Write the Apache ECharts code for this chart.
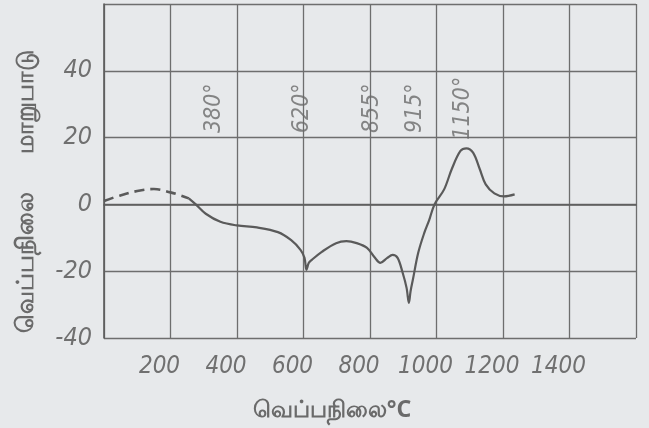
<!DOCTYPE html>
<html>
<head>
<meta charset="utf-8">
<script src="https://cdn.jsdelivr.net/npm/echarts@6/dist/echarts.min.js"></script>
<style>
html,body{margin:0;padding:0;background:#e7e9eb;}
#c{width:649px;height:428px;}
</style>
</head>
<body>
<div id="c"></div>
<script>
// Axis ticks / labels
var xTickValues = [200, 400, 600, 800, 1000, 1200, 1400];
var xTickLabels = ['200', '400', '600', '800', '1000', '1200', '1400'];
var yTickValues = [-40, -20, 0, 20, 40];
var yTickLabels = ['-40', '-20', '0', '20', '40'];

// Dashed (estimated) start of the curve
var dashX = [0, 40, 100, 150, 200, 230, 255];
var dashY = [1, 2.4, 4, 4.6, 3.6, 2.7, 1.8];

// Solid curve
var solidX = [255, 276, 306, 350, 400, 460, 523, 563, 591, 603, 609, 616, 625, 655, 698, 729, 760, 791, 815, 831, 852, 868, 883, 898, 910, 917, 922, 929, 945, 963, 978, 994, 1023, 1046, 1072, 1090, 1110, 1130, 1148, 1174, 1203, 1235];
var solidY = [1.8, 0, -2.8, -5.2, -6.3, -6.9, -8.3, -10.7, -13.6, -16, -19.6, -17.5, -16.6, -14.2, -11.6, -11, -11.6, -13, -16, -17.5, -16, -15.1, -16, -20.4, -25, -29.5, -26, -22.5, -14.5, -8.6, -4.7, 0, 4.5, 10.6, 16, 16.8, 15.5, 10.6, 6, 3.3, 2.4, 3];

// Temperature annotations
var annX = [331, 597, 806, 935, 1081];
var annY = [28.8, 28.8, 28.8, 28.8, 28.8];
var annText = ['380°', '620°', '855°', '915°', '1150°'];

var yNameParts = ['வெப்பநிலை', 'மாறுபாடு'];
var xName = 'வெப்பநிலை°C';

function zip(a, b) { return a.map(function (v, i) { return [v, b[i]]; }); }

var numFont = '"DejaVu Sans Condensed", "DejaVu Sans", sans-serif';
var ink = '#5c5c5c';
var gridInk = '#6e6e6e';
var nameFont = 'bold 24px "Noto Sans", sans-serif';

var chart = echarts.init(document.getElementById('c'), null, {renderer: 'canvas'});
chart.setOption({
  backgroundColor: '#e7e9eb',
  animation: false,
  grid: {left: 104, right: 13, top: 4, bottom: 90},
  xAxis: {
    type: 'value', min: 0, max: 1600, interval: 200,
    axisLine: {show: true, lineStyle: {color: ink, width: 1.6}},
    axisTick: {show: false},
    splitLine: {show: true, lineStyle: {color: gridInk, width: 1.3}},
    axisLabel: {
      margin: 17,
      padding: [0, 22, 0, 0],
      color: '#707070',
      fontFamily: numFont, fontStyle: 'italic', fontWeight: 'condensed', fontSize: 24,
      formatter: function (v) { var i = xTickValues.indexOf(v); return i >= 0 ? xTickLabels[i] : ''; }
    }
  },
  yAxis: {
    type: 'value', min: -40, max: 60, interval: 20,
    axisLine: {show: true, lineStyle: {color: ink, width: 1.6}},
    axisTick: {show: false},
    splitLine: {show: true, lineStyle: {color: gridInk, width: 1.3}},
    axisLabel: {
      margin: 12,
      color: '#707070',
      fontFamily: numFont, fontStyle: 'italic', fontWeight: 'condensed', fontSize: 25,
      formatter: function (v) { var i = yTickValues.indexOf(v); return i >= 0 ? yTickLabels[i] : ''; }
    }
  },
  graphic: [
    {type: 'text', x: 26, y: 262, rotation: Math.PI / 2,
      style: {text: yNameParts[0], fill: '#6a6a6a', font: nameFont, align: 'center', verticalAlign: 'middle'}},
    {type: 'text', x: 26, y: 102, rotation: Math.PI / 2,
      style: {text: yNameParts[1], fill: '#6a6a6a', font: nameFont, align: 'center', verticalAlign: 'middle'}},
    {type: 'text', x: 332, y: 410,
      style: {text: xName, fill: '#6a6a6a', font: 'bold 23px "Noto Sans", sans-serif', align: 'center', verticalAlign: 'middle'}}
  ],
  series: [
    {type: 'line', data: zip(dashX, dashY), smooth: 0.4, symbol: 'none',
      lineStyle: {color: '#5a5a5a', width: 2.6, type: [10, 6]}},
    {type: 'line', data: zip(solidX, solidY), smooth: 0.35, symbol: 'none',
      lineStyle: {color: '#5a5a5a', width: 2.2}},
    {type: 'scatter', data: zip(annX, annY), symbolSize: 0, silent: true,
      label: {show: true, position: 'inside', rotate: 90,
        formatter: function (p) { return annText[p.dataIndex]; },
        color: '#6a6a6a', fontFamily: numFont, fontStyle: 'italic', fontWeight: 'condensed', fontSize: 23}}
  ]
});
</script>
</body>
</html>
